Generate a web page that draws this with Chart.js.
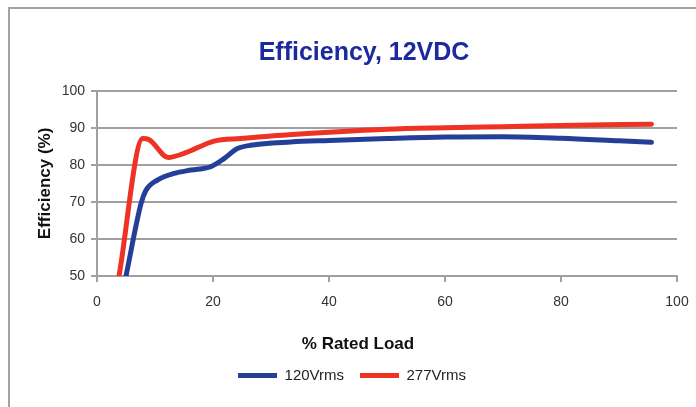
<!DOCTYPE html>
<html>
<head>
<meta charset="utf-8">
<script src="https://cdn.jsdelivr.net/npm/chart.js"></script>
<style>
  html, body { margin: 0; padding: 0; background: #fff; overflow: hidden; }
  body { width: 696px; height: 407px; position: relative; }
  .frame {
    position: absolute; left: 8px; top: 7px;
    width: 740px; height: 440px;
    border: 2px solid #a3a3a3;
  }
  .chart-wrapper {
    position: absolute; left: 10px; top: 9px;
    width: 696px; height: 398px;
  }
</style>
</head>
<body>
<div class="frame"></div>
<div class="chart-wrapper"><canvas id="efficiency-chart"></canvas></div>
<script>
// 데이터
const seriesNames = ['120Vrms', '277Vrms'];
const load120 = [5, 7.6, 8.4, 10.4, 13.3, 16.2, 19.6, 21.9, 24.2, 26.5, 33.4, 40, 50, 60, 70, 80, 90, 95.6];
const eff120  = [50, 69.6, 73, 75.9, 77.7, 78.6, 79.5, 81.7, 84.4, 85.3, 86.2, 86.6, 87.1, 87.5, 87.6, 87.2, 86.5, 86.1];
const load277 = [3.8, 7.9, 9.0, 12.3, 15, 20.2, 24.8, 30, 40, 50, 60, 70, 80, 95.6];
const eff277  = [50, 87.1, 86.8, 82, 83.1, 86.4, 87.1, 87.8, 88.8, 89.6, 90.0, 90.3, 90.6, 91.0];
const xTicks = [0, 20, 40, 60, 80, 100];
const yTicks = [50, 60, 70, 80, 90, 100];

const colors = {
  blue: '#243f98',
  red: '#ee3224',
  grid: '#a0a0a0',
  title: '#1d2a9f'
};

const fontFamily = "'Liberation Sans', Arial, sans-serif";

function toPoints(xs, ys) {
  return xs.map((x, i) => ({ x: x, y: ys[i] }));
}

function makeSeries(label, xs, ys, color) {
  return {
    label: label,
    data: toPoints(xs, ys),
    borderColor: color,
    backgroundColor: color,
    borderWidth: 5,
    borderCapStyle: 'round',
    borderJoinStyle: 'round',
    pointRadius: 0,
    pointHoverRadius: 0,
    cubicInterpolationMode: 'monotone',
    fill: false,
    yAxisID: 'y'
  };
}

// 제목은 약간 오른쪽, 범례는 약간 왼쪽으로 이동
const nudgeBoxes = {
  id: 'nudgeBoxes',
  afterLayout(chart) {
    if (chart.titleBlock) {
      chart.titleBlock.left += 6;
      chart.titleBlock.right += 6;
    }
    if (chart.legend) {
      chart.legend.left -= 6;
      chart.legend.right -= 6;
    }
  }
};

const canvas = document.getElementById('efficiency-chart');

new Chart(canvas, {
  type: 'line',
  data: {
    datasets: [
      makeSeries(seriesNames[0], load120, eff120, colors.blue),
      makeSeries(seriesNames[1], load277, eff277, colors.red)
    ]
  },
  plugins: [nudgeBoxes],
  options: {
    responsive: true,
    maintainAspectRatio: false,
    animation: false,
    layout: { padding: { left: 0, right: 0, top: 0, bottom: 14 } },
    scales: {
      x: {
        type: 'linear',
        min: xTicks[0],
        max: xTicks[xTicks.length - 1],
        afterBuildTicks: scale => { scale.ticks = xTicks.map(v => ({ value: v })); },
        afterFit: scale => { scale.height = 40; },
        border: { display: true, color: colors.grid, width: 2 },
        grid: { drawOnChartArea: false, drawTicks: true, tickLength: 6, color: colors.grid, lineWidth: 2 },
        ticks: { color: '#333', padding: 12, font: { family: fontFamily, size: 14 } }
      },
      y: {
        min: yTicks[0],
        max: yTicks[yTicks.length - 1],
        afterBuildTicks: scale => { scale.ticks = yTicks.map(v => ({ value: v })); },
        afterFit: scale => { scale.width = 87; },
        border: { display: true, color: colors.grid, width: 2 },
        grid: { color: colors.grid, lineWidth: 2, drawTicks: true, tickLength: 6 },
        ticks: { color: '#333', padding: 6, font: { family: fontFamily, size: 14 } },
        title: {
          display: true,
          text: 'Efficiency (%)',
          color: '#111',
          padding: { top: 25, bottom: 0 },
          font: { family: fontFamily, size: 17, weight: 'bold' }
        }
      },
      // 오른쪽 여백용 빈 축
      y2: {
        position: 'right',
        display: true,
        afterFit: scale => { scale.width = 29; },
        border: { display: false },
        grid: { display: false, drawTicks: false },
        ticks: { display: false }
      }
    },
    plugins: {
      title: {
        display: true,
        text: 'Efficiency, 12VDC',
        color: colors.title,
        padding: { top: 29, bottom: 22.8 },
        font: { family: fontFamily, size: 25, weight: 'bold' }
      },
      subtitle: {
        display: true,
        position: 'bottom',
        weight: 500,
        text: '% Rated Load',
        color: '#111',
        padding: { top: 17.8, bottom: -2.2 },
        font: { family: fontFamily, size: 17, weight: 'bold' }
      },
      legend: {
        position: 'bottom',
        labels: {
          usePointStyle: true,
          pointStyle: 'line',
          pointStyleWidth: 39,
          boxHeight: 15,
          padding: 16,
          color: '#222',
          font: { family: fontFamily, size: 15 }
        }
      },
      tooltip: { enabled: false }
    }
  }
});
</script>
</body>
</html>
